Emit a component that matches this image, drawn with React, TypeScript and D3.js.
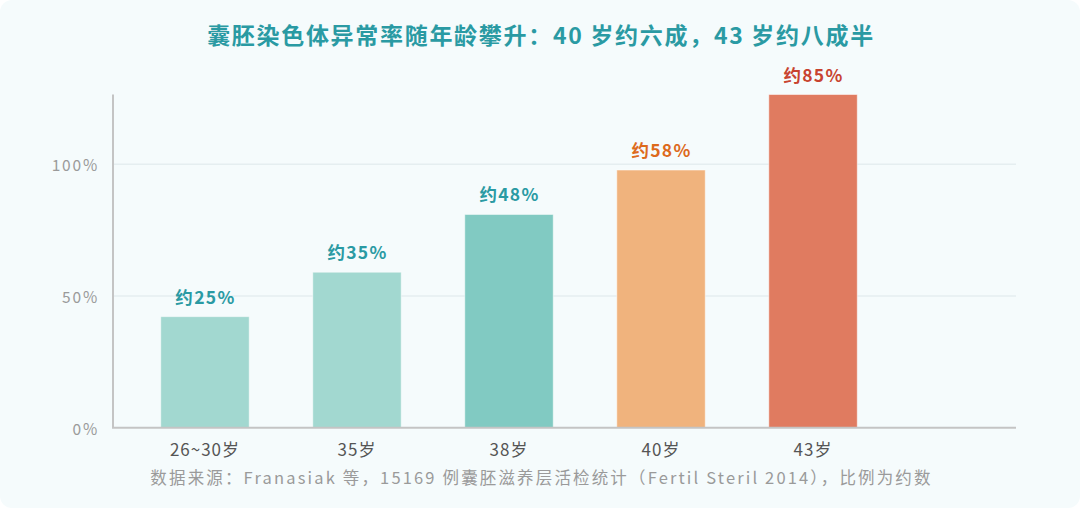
import React from "react";
import * as d3 from "d3";

const categories = ["26~30岁", "35岁", "38岁", "40岁", "43岁"];
const values = [25, 35, 48, 58, 85];
const valueLabels = ["约25%", "约35%", "约48%", "约58%", "约85%"];
const barColors = ["#a2d8d0", "#a2d8d0", "#81cac2", "#f0b37d", "#e07b60"];
const labelColors = ["#2a9aa3", "#2a9aa3", "#2a9aa3", "#dd6a1c", "#c8432f"];
const tickValues = [0, 50, 100];
const tickLabels = ["0%", "50%", "100%"];
const title = "囊胚染色体异常率随年龄攀升：40 岁约六成，43 岁约八成半";
const source = "数据来源：Franasiak 等，15169 例囊胚滋养层活检统计（Fertil Steril 2014），比例为约数";

const W = 1080;
const H = 508;
const left = 113;
const right = 1016;
const top = 94.5;
const bottom = 427.7;
const FONT = "'Noto Sans CJK SC', 'Noto Sans', sans-serif";

export default function App() {
  const x = d3
    .scaleBand<string>()
    .domain(categories)
    .range([left, 905])
    .paddingInner(0.418)
    .paddingOuter(0.314);
  // The reference draws its bars on a scale different from the one its tick labels use.
  const yBar = d3.scaleLinear().domain([0, 75]).range([bottom, top]).clamp(true);
  const yAxis = d3.scaleLinear().domain([0, 126.5]).range([bottom, top]);

  return (
    <div style={{ position: "fixed", left: 0, top: 0 }}>
      <svg width={W} height={H} style={{ display: "block" }} fontFamily={FONT}>
        <rect x={0} y={0} width={W} height={H} fill="#ffffff" />
        <rect x={0} y={0} width={W} height={H} rx={12} ry={12} fill="#f5fbfc" />
        <text
          x={541}
          y={43.5}
          textAnchor="middle"
          fontSize={23}
          fontWeight={700}
          fill="#2a9aa3"
          letterSpacing={1.7}
        >
          {title}
        </text>
        {tickValues.map((t) =>
          t === 0 ? null : (
            <line
              key={"g" + t}
              x1={left}
              x2={right}
              y1={yAxis(t)}
              y2={yAxis(t)}
              stroke="#e5eef0"
              strokeWidth={1.5}
            />
          )
        )}
        {tickValues.map((t, i) => (
          <text
            key={"t" + t}
            x={99}
            y={yAxis(t) + 7}
            textAnchor="end"
            fontSize={15.5}
            fill="#9a9a9a"
            letterSpacing={1.8}
          >
            {tickLabels[i]}
          </text>
        ))}
        {categories.map((c, i) => (
          <rect
            key={"b" + c}
            x={x(c)}
            y={yBar(values[i])}
            width={x.bandwidth()}
            height={bottom - yBar(values[i])}
            fill={barColors[i]}
            stroke="#ffffff"
            strokeOpacity={0.5}
            strokeWidth={1}
          />
        ))}
        {categories.map((c, i) => (
          <text
            key={"v" + c}
            x={(x(c) as number) + x.bandwidth() / 2 + 0.5}
            y={yBar(values[i]) - 13}
            textAnchor="middle"
            fontSize={17.5}
            fontWeight={700}
            fill={labelColors[i]}
            letterSpacing={1.3}
          >
            {valueLabels[i]}
          </text>
        ))}
        <line x1={left} x2={left} y1={top} y2={bottom} stroke="#c4c4c4" strokeWidth={2} />
        <line x1={left - 1} x2={right} y1={bottom} y2={bottom} stroke="#c4c4c4" strokeWidth={2} />
        {categories.map((c) => (
          <text
            key={"x" + c}
            x={(x(c) as number) + x.bandwidth() / 2}
            y={456}
            textAnchor="middle"
            fontSize={17}
            fill="#555555"
            letterSpacing={1}
          >
            {c}
          </text>
        ))}
        <text
          x={541.5}
          y={484}
          textAnchor="middle"
          fontSize={16.5}
          fill="#9a9a9a"
          letterSpacing={2.15}
        >
          {source}
        </text>
      </svg>
    </div>
  );
}
